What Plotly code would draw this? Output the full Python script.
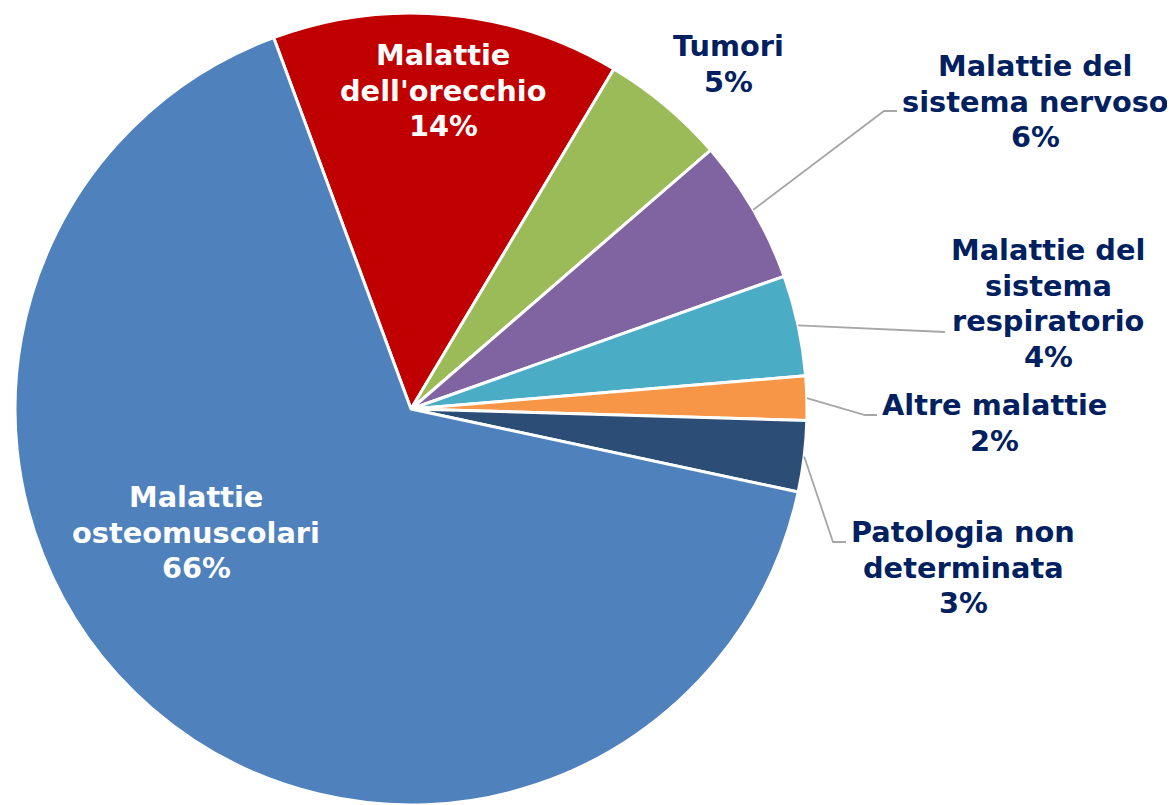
import math
import plotly.graph_objects as go

# ---- data ----
categories = ["Malattie dell'orecchio", "Tumori", "Malattie del sistema nervoso",
              "Malattie del sistema respiratorio", "Altre malattie",
              "Patologia non determinata", "Malattie osteomuscolari"]
values = [14.2, 5.1, 5.9, 4.1, 1.8, 2.9, 66.0]
pct_labels = ["14%", "5%", "6%", "4%", "2%", "3%", "66%"]
label_lines = [["Malattie", "dell'orecchio"], ["Tumori"], ["Malattie del", "sistema nervoso"],
               ["Malattie del", "sistema", "respiratorio"], ["Altre malattie"],
               ["Patologia non", "determinata"], ["Malattie", "osteomuscolari"]]
colors = ["#C00000", "#9BBB59", "#8064A2", "#4BACC6", "#F79646", "#2C4D75", "#4F81BD"]

OFF = 8  # default page body margin
W, H = 1175 - OFF, 805 - OFF
CX, CY, R = 411 - OFF, 409 - OFF, 396
ROT = -20.3

FONT = "DejaVu Sans"
FS = 28.8
LH = 35.5
NAVY = "#002060"

fig = go.Figure()
fig.add_trace(go.Pie(
    labels=categories, values=values, sort=False, direction="clockwise",
    rotation=ROT, marker=dict(colors=colors, line=dict(color="white", width=3)),
    textinfo="none", hoverinfo="label+percent", showlegend=False,
    domain=dict(x=[(CX - R) / W, (CX + R) / W], y=[max(0, (H - CY - R) / H), min(1, (H - CY + R) / H)]),
))

# label block positions in page px (center x, first-line center y), text colour
label_pos = [(443, 55, "white"), (728, 46, NAVY), (1035, 66, NAVY), (1048, 250, NAVY),
             (994, 405, NAVY), (963, 532, NAVY), (196, 497, "white")]
# leader line elbow/end points in page px (None = no line)
leaders = [None, None, [(884, 111), (897, 111)], [(945, 332)],
           [(865, 415), (877, 415)], [(833, 542), (846, 542)], None]

annotations = []
shapes = []
total = sum(values)
cum = 0.0
for i, v in enumerate(values):
    mid = math.radians(ROT + 360 * (cum + v / 2) / total)
    cum += v
    lines = label_lines[i] + [pct_labels[i]]
    x0, y0, col = label_pos[i]
    for k, t in enumerate(lines):
        annotations.append(dict(x=x0 - OFF, y=y0 - OFF + k * LH, xref="x", yref="y",
                                text="<b>%s</b>" % t, showarrow=False,
                                xanchor="center", yanchor="middle",
                                font=dict(family=FONT, size=FS, color=col)))
    if leaders[i]:
        pts = [(CX + R * math.sin(mid), CY - R * math.cos(mid))] + \
              [(px - OFF, py - OFF) for px, py in leaders[i]]
        path = "M %f %f " % pts[0] + " ".join("L %f %f" % p for p in pts[1:])
        shapes.append(dict(type="path", path=path, xref="x", yref="y",
                           line=dict(color="#A6A6A6", width=1.8)))

fig.update_layout(
    width=W, height=H, margin=dict(l=0, r=0, t=0, b=0),
    paper_bgcolor="white", plot_bgcolor="rgba(0,0,0,0)",
    xaxis=dict(range=[0, W], visible=False, fixedrange=True),
    yaxis=dict(range=[H, 0], visible=False, fixedrange=True),
    annotations=annotations, shapes=shapes,
)
fig.write_html("out.html")
